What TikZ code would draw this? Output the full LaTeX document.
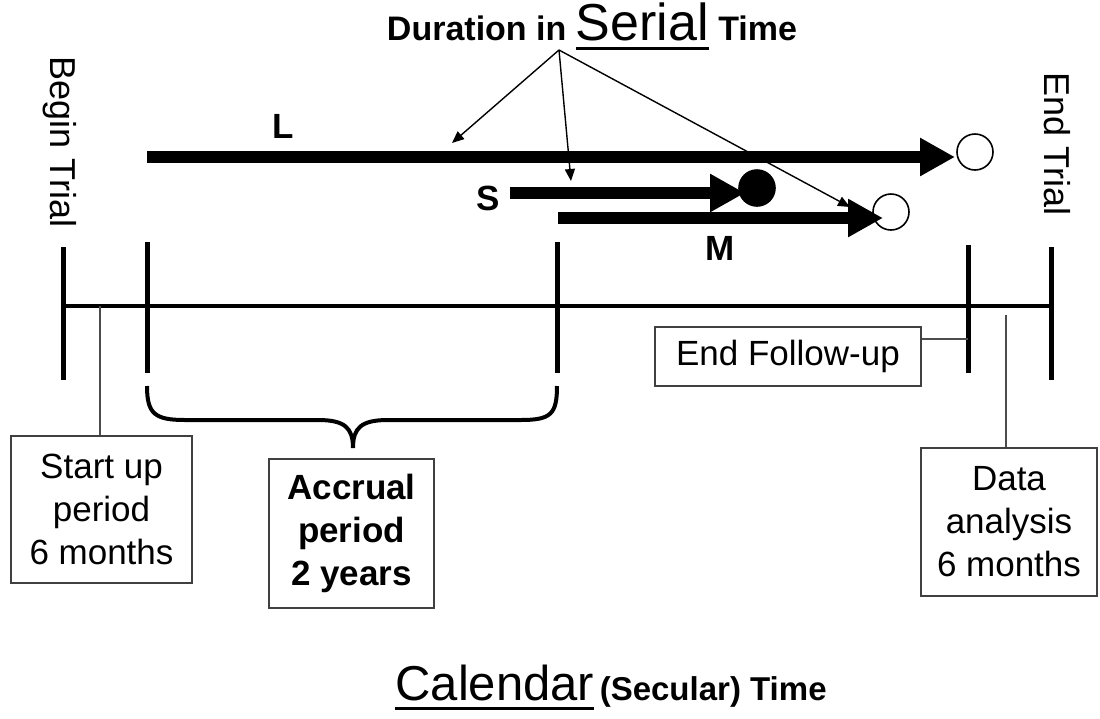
\documentclass[tikz,border=0pt]{standalone}
\usepackage{fontspec}
\setmainfont{Liberation Sans}
\usetikzlibrary{arrows.meta,positioning}
\newcommand{\ulword}[1]{\setbox0\hbox{#1}\makebox[0pt][l]{\rule[-0.2em]{\wd0}{0.065em}}\box0}
\tikzset{%
   axis/.style={line width=2pt},
   tickmark/.style={line width=2.5pt},
   leader/.style={line width=0.7pt, draw=black!70},
   pointer/.style={line width=0.7pt, -{Triangle[length=6pt,width=5pt]}},
   span/.style={line width=6pt, -{Triangle[length=17.5pt,width=18pt]}},
   infobox/.style={draw=black!75, line width=0.7pt, align=center, inner sep=0pt,
     font=\fontsize{17.5}{21.5}\selectfont},
   endpt/.style={circle, draw, line width=0.8pt, minimum size=18pt, inner sep=0pt},
   lbl/.style={inner sep=0pt, font=\fontsize{17.5}{17.5}\selectfont\bfseries},
   vlbl/.style={inner sep=0pt, rotate=-90, font=\fontsize{18}{18}\selectfont},
}

\begin{document}
\begin{tikzpicture}[x=0.5pt, y=-0.5pt]
   \useasboundingbox (0,0) rectangle (1100,719);
   % titles
   \node[anchor=base, inner sep=0pt] (serial) at (592,40)
      {\fontsize{17}{17}\selectfont\bfseries Duration in
       {\fontsize{26}{26}\selectfont\mdseries\ulword{Serial}} Time};
   \node[anchor=base, inner sep=0pt] (calendar) at (611,700)
      {{\fontsize{24.5}{24.5}\selectfont\ulword{Calendar}}
       \fontsize{16.5}{16.5}\selectfont\bfseries (Secular) Time};
   \node[vlbl] (begin) at (60,142) {Begin Trial};
   \node[vlbl] (end) at (1057,144) {End Trial};

   % calendar axis and ticks
   \draw[axis] (63,306) -- (1051,306);
   \draw[tickmark] (63,247) -- (63,380);
   \draw[tickmark] (147,242) -- (147,373);
   \draw[tickmark] (557,242) -- (557,373);
   \draw[tickmark] (968,245) -- (968,373);
   \draw[tickmark] (1051,247) -- (1051,380);

   % accrual brace
   \draw[line width=2pt] (147,386) .. controls (147,414) and (155,420) .. (185,420)
      -- (318,420) .. controls (345,420) and (353,428) .. (353,448)
      .. controls (353,428) and (361,420) .. (388,420)
      -- (521,420) .. controls (551,420) and (557,414) .. (557,386);

   % boxes
   \node[infobox, minimum width=90.5pt, minimum height=73.5pt] (startup) at (101.5,509.5)
      {Start up\\period\\6 months};
   \node[infobox, minimum width=82.5pt, minimum height=74.5pt,
         font=\fontsize{17.5}{21.5}\selectfont\bfseries] (accrual) at (351.5,533.5)
      {Accrual\\period\\2 years};
   \node[infobox, minimum width=133pt, minimum height=29.5pt] (followup) at (788,356.5)
      {End Follow-up};
   \node[infobox, minimum width=88pt, minimum height=74pt] (analysis) at (1009,522)
      {Data\\analysis\\6 months};

   \coordinate (su) at (100,306);
   \coordinate (da) at (1006,315);
   \coordinate (fu) at (968,339);
   \draw[leader] (su) -- (su |- startup.north);
   \draw[leader] (da) -- (da |- analysis.north);
   \draw[leader] (followup.east |- fu) -- (fu);

   % patient durations
   \node[endpt] (Lend) at (975,152) {};
   \node[endpt, fill=black] (Send) at (757,188) {};
   \node[endpt] (Mend) at (891,212) {};
   \draw[span] (147,157) -- (955,157);
   \draw[span] (510,193) -- (745,193);
   \draw[span] (558,218) -- (883,218);
   \node[lbl] (Llbl) at (283,126) {L};
   \node[lbl] (Slbl) at (488,198) {S};
   \node[lbl] (Mlbl) at (720,248) {M};

   % pointers from the title
   \coordinate (apex) at (559,50);
   \coordinate (onL) at (452,143);
   \coordinate (onS) at (571,181);
   \coordinate (onM) at (850,207);
   \draw[pointer] (apex) -- (onL);
   \draw[pointer] (apex) -- (onS);
   \draw[pointer] (apex) -- (onM);
\end{tikzpicture}
\end{document}
